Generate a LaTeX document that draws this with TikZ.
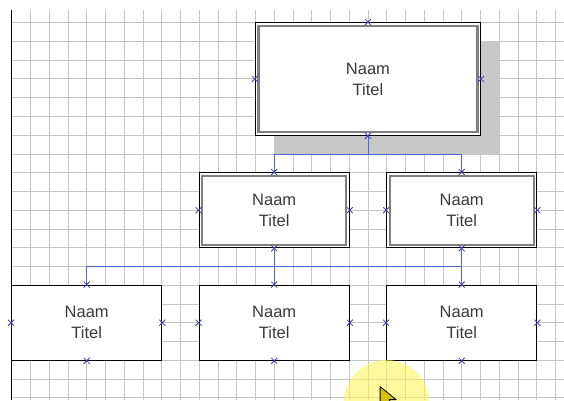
\documentclass[tikz,border=0pt]{standalone}
\usepackage{fontspec}
\setmainfont{Liberation Sans}
\definecolor{gridgray}{HTML}{C6C6C6}
\definecolor{shadowgray}{HTML}{C8C8C8}
\definecolor{linkblue}{HTML}{5068D0}
\definecolor{pointblue}{HTML}{3C3CB4}
\definecolor{textgray}{HTML}{3A3A3A}

\tikzset{
    person/.style={draw=black, line width=1.3pt, fill=white, inner sep=0pt,
        align=center, text=textgray, font=\fontsize{16.5}{21}\selectfont,
        minimum width=150pt, minimum height=75pt},
    boss/.style={person, minimum width=225pt, minimum height=112.5pt},
    innerline/.style={draw=gray, line width=2.2pt},
    link/.style={draw=linkblue, line width=0.9pt},
    cpoint/.style={draw=pointblue, line width=0.8pt},
}

\begin{document}
\begin{tikzpicture}[x=18.75pt, y=-18.75pt]
    \useasboundingbox (-0.624,-1.2107) rectangle (29.456,20.123);
    \clip (-0.624,-1.2107) rectangle (29.456,20.123);

    % drawing sheet
    \foreach \i in {0,...,29}
        \draw[gridgray, line width=0.9pt] (\i,-0.677) -- (\i,20.123);
    \foreach \j in {0,...,20}
        \draw[gridgray, line width=0.9pt] (0,\j) -- (29.456,\j);
    \draw[black, line width=1.5pt] (0,-0.677) -- (0,20.123);

    \fill[shadowgray] (14,1) rectangle (26,7);

    \node[boss] (top) at (19, 3) {Naam\\Titel};
    \node[person] (mid1) at (14, 10) {Naam\\Titel};
    \node[person] (mid2) at (24, 10) {Naam\\Titel};
    \node[person] (low1) at (4, 16) {Naam\\Titel};
    \node[person] (low2) at (14, 16) {Naam\\Titel};
    \node[person] (low3) at (24, 16) {Naam\\Titel};

    \foreach \b in {top, mid1, mid2}
        \draw[innerline] ([shift={(3.6pt,-3.6pt)}]\b.north west) rectangle ([shift={(-3.6pt,3.6pt)}]\b.south east);

    \coordinate (split1) at (19, 7);
    \coordinate (split2) at (14, 13);

    \draw[link] (top.south) -- (split1) -| (mid1.north);
    \draw[link] (split1) -| (mid2.north);
    \draw[link] (mid1.south) -- (low2.north);
    \draw[link] (low1.north) |- (split2) -| (low3.north);
    \draw[link] (mid2.south) -- (low3.north);

    % connection points
    \foreach \b in {top, mid1, mid2, low1, low2, low3}
        \foreach \a in {north, south, east, west}
            \draw[cpoint] (\b.\a) +(-3pt,-3pt) -- +(3pt,3pt) +(-3pt,3pt) -- +(3pt,-3pt);

    % pointer
    \fill[yellow!70, opacity=0.55] (20, 20.26) circle (42.6pt);
    \draw[black, fill={rgb,255:red,212;green,196;blue,0}, line width=0.8pt, line join=round]
        (19.65, 19.41) -- ++(0pt,-20pt) -- ++(5pt,5pt) -- ++(5pt,-9pt) -- ++(4pt,2pt) -- ++(-5pt,9pt) -- ++(7pt,0pt) -- cycle;
\end{tikzpicture}
\end{document}
